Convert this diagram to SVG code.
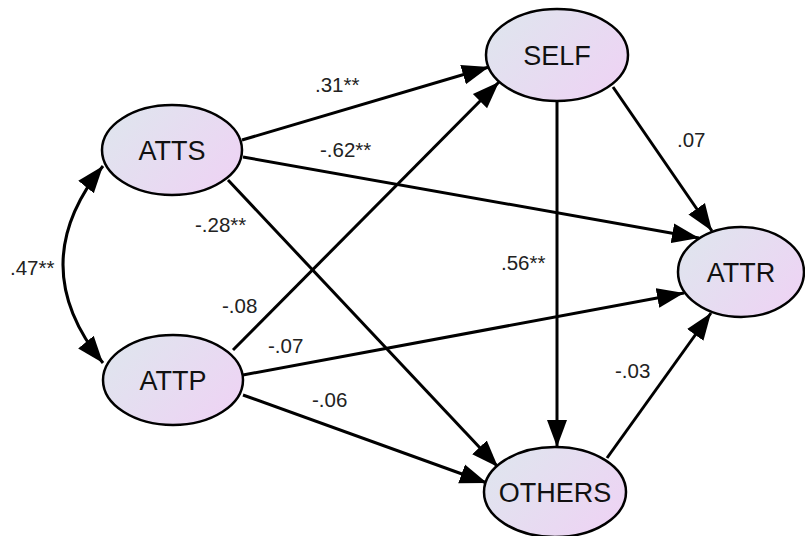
<svg xmlns="http://www.w3.org/2000/svg" width="805" height="536" viewBox="0 0 805 536">
<style>
.node ellipse{fill:url(#g);stroke:#000;stroke-width:2.5}
.node text{font-family:"Liberation Sans",Arial,sans-serif;font-size:27px;text-anchor:middle;fill:#111}
.edge{stroke:#000;stroke-width:3;fill:none;marker-end:url(#ah)}
.lbl{font-family:"Liberation Sans",Arial,sans-serif;font-size:20.5px;fill:#222}
</style>
<defs>
<linearGradient id="g" x1="0" y1="0.2" x2="1" y2="0.8">
<stop offset="0" stop-color="#dfe5ee"/>
<stop offset="1" stop-color="#eed3f4"/>
</linearGradient>
<marker id="ah" markerUnits="userSpaceOnUse" markerWidth="28" markerHeight="22" viewBox="0 -11 28 22" refX="27" refY="0" orient="auto-start-reverse">
<path d="M0,-10 L27,0 L0,10 z" fill="#000"/>
</marker>
</defs>
<rect width="805" height="536" fill="#fff"/>
<g id="connectors">
<path class="edge" d="M103,166 Q23,265 103,363" marker-start="url(#ah)"/>
<line class="edge" x1="242" y1="140" x2="489" y2="67"/>
<line class="edge" x1="243" y1="157" x2="699" y2="238"/>
<line class="edge" x1="233" y1="350" x2="499" y2="82"/>
<line class="edge" x1="228" y1="180" x2="498" y2="467"/>
<line class="edge" x1="243" y1="375" x2="684" y2="293"/>
<line class="edge" x1="243" y1="395" x2="487" y2="483"/>
<line class="edge" x1="557" y1="101" x2="557" y2="447"/>
<line class="edge" x1="613" y1="87" x2="712" y2="231"/>
<line class="edge" x1="607" y1="458" x2="711" y2="313"/>
</g>
<g id="labels">
<text class="lbl" x="10" y="275">.47**</text>
<text class="lbl" x="315" y="92">.31**</text>
<text class="lbl" x="320" y="157">-.62**</text>
<text class="lbl" x="195" y="232">-.28**</text>
<text class="lbl" x="222" y="313">-.08</text>
<text class="lbl" x="268" y="353">-.07</text>
<text class="lbl" x="312" y="407">-.06</text>
<text class="lbl" x="501" y="270">.56**</text>
<text class="lbl" x="677" y="147">.07</text>
<text class="lbl" x="615" y="378">-.03</text>
</g>
<g id="ATTS" class="node"><ellipse cx="172" cy="150" rx="70" ry="45"/><text x="172" y="160">ATTS</text></g>
<g id="ATTP" class="node"><ellipse cx="173" cy="380" rx="70" ry="45"/><text x="173" y="390">ATTP</text></g>
<g id="SELF" class="node"><ellipse cx="557" cy="55" rx="71" ry="46"/><text x="557" y="65">SELF</text></g>
<g id="ATTR" class="node"><ellipse cx="741" cy="272" rx="63" ry="45"/><text x="741" y="282">ATTR</text></g>
<g id="OTHERS" class="node"><ellipse cx="555" cy="492" rx="71" ry="45"/><text x="555" y="502">OTHERS</text></g>
</svg>
